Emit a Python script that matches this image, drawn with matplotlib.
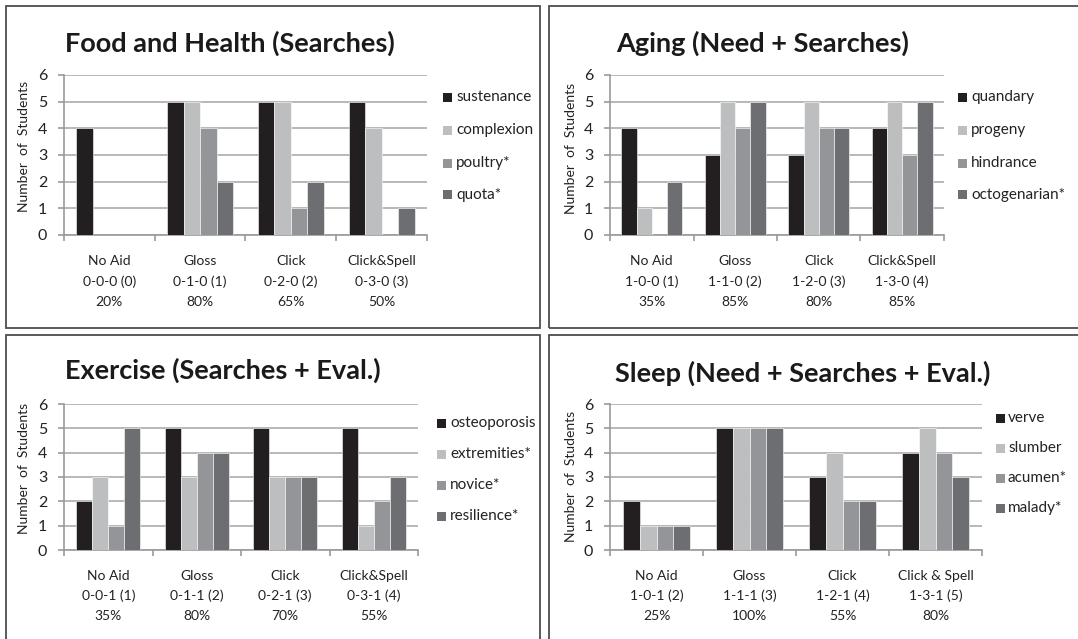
import matplotlib
matplotlib.use("Agg")
import matplotlib.pyplot as plt
from matplotlib.patches import Rectangle
from matplotlib.transforms import blended_transform_factory

plt.rcParams["font.family"] = ["Lato", "DejaVu Sans"]

W, H = 1078, 639

# ---- data ----
food_title = "Food and Health (Searches)"
food_words = ["sustenance", "complexion", "poultry*", "quota*"]
food_counts = [[4, 5, 5, 5], [0, 5, 5, 4], [0, 4, 1, 0], [0, 2, 2, 1]]
food_cats = ["No Aid", "Gloss", "Click", "Click&Spell"]
food_codes = ["0-0-0 (0)", "0-1-0 (1)", "0-2-0 (2)", "0-3-0 (3)"]
food_pct = ["20%", "80%", "65%", "50%"]

aging_title = "Aging (Need + Searches)"
aging_words = ["quandary", "progeny", "hindrance", "octogenarian*"]
aging_counts = [[4, 3, 3, 4], [1, 5, 5, 5], [0, 4, 4, 3], [2, 5, 4, 5]]
aging_cats = ["No Aid", "Gloss", "Click", "Click&Spell"]
aging_codes = ["1-0-0 (1)", "1-1-0 (2)", "1-2-0 (3)", "1-3-0 (4)"]
aging_pct = ["35%", "85%", "80%", "85%"]

exercise_title = "Exercise (Searches + Eval.)"
exercise_words = ["osteoporosis", "extremities*", "novice*", "resilience*"]
exercise_counts = [[2, 5, 5, 5], [3, 3, 3, 1], [1, 4, 3, 2], [5, 4, 3, 3]]
exercise_cats = ["No Aid", "Gloss", "Click", "Click&Spell"]
exercise_codes = ["0-0-1 (1)", "0-1-1 (2)", "0-2-1 (3)", "0-3-1 (4)"]
exercise_pct = ["35%", "80%", "70%", "55%"]

sleep_title = "Sleep (Need + Searches + Eval.)"
sleep_words = ["verve", "slumber", "acumen*", "malady*"]
sleep_counts = [[2, 5, 3, 4], [1, 5, 4, 5], [1, 5, 2, 4], [1, 5, 2, 3]]
sleep_cats = ["No Aid", "Gloss", "Click", "Click & Spell"]
sleep_codes = ["1-0-1 (2)", "1-1-1 (3)", "1-2-1 (4)", "1-3-1 (5)"]
sleep_pct = ["25%", "100%", "55%", "80%"]

colors = ["#231f20", "#bcbec0", "#939598", "#6d6e71"]

fig = plt.figure(figsize=(W / 100, H / 100), dpi=100)


def fx(x):
    return x / W


def fy(y):
    return 1 - y / H


def panel(box, ax_px, title, title_xy, words, counts, cats, codes, pct,
          leg_sq_x, leg_txt_x, leg_ys, rows_y, ylab_xy):
    # frame around the panel
    bx0, by0, bx1, by1 = box
    fig.add_artist(Rectangle((fx(bx0), fy(by1)), fx(bx1 - bx0), (by1 - by0) / H,
                             transform=fig.transFigure, fill=False,
                             edgecolor="#4d4d4d", lw=1.3, clip_on=False))

    x0, x1, ytop, ybot = ax_px
    ax = fig.add_axes([fx(x0), fy(ybot), fx(x1 - x0), (ybot - ytop) / H])
    n = len(words)
    bw = 1 / (n + 1.5)
    for j, (name, vals) in enumerate(zip(words, counts)):
        xs = [i + 0.5 + (j - (n - 1) / 2) * bw for i in range(len(vals))]
        ax.bar(xs, vals, width=bw, color=colors[j], edgecolor="white",
               linewidth=0.4, zorder=3)

    ax.set_xlim(0, len(cats))
    ax.set_ylim(0, 6)
    ax.set_yticks(range(7))
    ax.set_xticks(range(len(cats) + 1))
    ax.set_xticklabels([])
    ax.grid(axis="y", color="#ababab", lw=1.2, zorder=0)
    for s in ["top", "right"]:
        ax.spines[s].set_visible(False)
    for s in ["left", "bottom"]:
        ax.spines[s].set_color("#9a9a9a")
        ax.spines[s].set_linewidth(1.2)
    ax.tick_params(axis="x", length=4, color="#9a9a9a", width=1.2)
    ax.tick_params(axis="y", length=4, color="#9a9a9a", width=1.2,
                   labelsize=11.5, pad=8, labelcolor="#222222")

    fig.text(fx(title_xy[0]), fy(title_xy[1]), title, fontsize=19.5,
             fontweight="bold", color="#1a1a1a", ha="left", va="center")
    fig.text(fx(ylab_xy[0]), fy(ylab_xy[1]), "Number  of  Students",
             fontsize=10, rotation=90, ha="center", va="center", color="#222222")

    tr = blended_transform_factory(ax.transData, fig.transFigure)
    for i in range(len(cats)):
        for row, lab in zip(rows_y, [cats[i], codes[i], pct[i]]):
            ax.text(i + 0.5, fy(row), lab, transform=tr, ha="center",
                    va="center", fontsize=10, color="#222222")

    sq = 9
    for j, name in enumerate(words):
        yc = leg_ys[j]
        fig.add_artist(Rectangle((fx(leg_sq_x), fy(yc + sq / 2)), fx(sq), sq / H,
                                 transform=fig.transFigure, facecolor=colors[j],
                                 edgecolor="none"))
        fig.text(fx(leg_txt_x), fy(yc), name, fontsize=11, ha="left",
                 va="center", color="#222222")
    return ax


panel((6, 6, 540, 328), (64, 427, 75, 235), food_title, (65, 43),
      food_words, food_counts, food_cats, food_codes, food_pct,
      443, 456, [97, 130, 163, 195], [261, 282, 302], (24, 146))

panel((549, 6, 1100, 328), (610, 944, 75, 235), aging_title, (616, 43),
      aging_words, aging_counts, aging_cats, aging_codes, aging_pct,
      958, 971, [97, 130, 163, 195], [261, 282, 302], (571, 148))

panel((6, 335, 540, 660), (64, 418, 404, 550), exercise_title, (65, 370),
      exercise_words, exercise_counts, exercise_cats, exercise_codes, exercise_pct,
      437, 450, [423, 454, 485, 516], [576, 596, 616], (24, 468))

panel((549, 335, 1100, 660), (610, 982, 404, 550), sleep_title, (615, 373),
      sleep_words, sleep_counts, sleep_cats, sleep_codes, sleep_pct,
      996, 1008, [418, 448, 478, 508], [576, 596, 616], (571, 476))

fig.savefig("out.png", dpi=100)
